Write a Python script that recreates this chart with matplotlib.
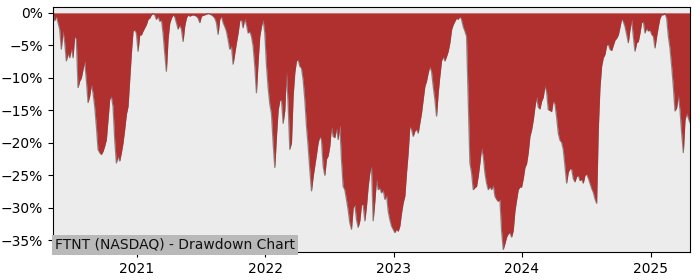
import matplotlib
matplotlib.use("Agg")
import matplotlib.pyplot as plt
import matplotlib.dates as mdates
import matplotlib.ticker as mticker
import pandas as pd

title = "FTNT (NASDAQ) - Drawdown Chart"
start_date = "2020-05-07"
end_date = "2025-04-23"

# drawdown (%) sampled at regular intervals between start_date and end_date
dd_2020_2021 = [
    0, -1.2, -0.5, -1.5, -2.5, -5.6, -2.7, -4.5, -7.4, -6.2, -6.9, -5.4, -6.9, -3.6, -4, -11.5,
    -10.5, -10, -8.7, -7.4, -10.3, -13.8, -12.8, -11, -12.3, -14.4, -17.4, -21, -21.5, -21.8,
    -21.3, -20.5, -19.5, -16.4, -13.3, -12.8, -14.4, -19.5, -23.1, -22, -22.8, -21.5, -20,
    -17.9, -15.6, -14.4, -10.3, -6.2, -2.8, -2.6, -3.1, -5.9, -3.4, -3.4, -2.8, -2.3, -1.8,
    -1, -0.8, -0.3, -0.1, -0.3, -1, -0.5, -1.3, -1, -3.1, -6.2, -9, -4, -1.6, -0.8, -0.3,
    -0.6, -1.5, -2.5, -1.8, -2.5, -4.4, -2, -0.8, -0.3, -0.5, -0.4, -0.3, -0.4, -0.5, -0.8,
    -1.5, -0.5, -0.4, -0.3, -0.2, -0.1, -0.2, -0.3, -0.5, -0.8, -1.5, -3.3, -1, -0.5, -1.5,
    -2.1, -2.8, -4.1, -5.6, -5, -7.9, -6.2, -4.6, -3.1, -1.2,
]
dd_2022_2023 = [
    -1, -2.3, -0.8, -1.8, -3.1, -2.8, -3.6, -5.1, -8.2, -12.3, -7.5, -3.6, -2.1, -1, -3, -8,
    -11.5, -14, -15.5, -20, -23.8, -19, -15, -13.5, -13.3, -17, -15, -9, -14, -21, -20, -12.8,
    -9.2, -7.4, -7.2, -8.2, -8.5, -10.3, -13.3, -17.4, -20.5, -24.1, -27.4, -25.2, -23.5,
    -21.8, -20, -19, -19.5, -23.6, -25, -22.5, -22, -20.5, -17.5, -19, -19.2, -17.7, -19.5,
    -17.2, -22.6, -26.7, -27.2, -28.7, -30.3, -32.3, -33.3, -30, -29.5, -31.8, -33, -32,
    -29.5, -29.5, -32, -29.7, -26.7, -24.6, -23.5, -32, -29, -25.6, -27.2, -26.9, -27.7,
    -27.2, -28.7, -28, -30.5, -31.8, -32.8, -33.3, -33.8, -33.3, -33.6, -32.8, -30.8, -29.2,
    -28.2, -24.6, -21.5, -17.4, -17.9, -19, -18.2, -17.9, -18.5, -16.9, -15.4, -13.3, -11.3,
    -10.5, -9.2, -8.2, -9, -11.3, -13.3, -15.9, -12.3, -9.7, -7.4, -6.7, -7.4, -6.7, -5.9,
    -4.6, -2.6, -1.8, -1.3, -0.8, -1, -0.5,
]
dd_2023_2025 = [
    -1, -2.1, -2.8, -3.6, -13.3, -23.1, -24.6, -27.2, -26.9, -26.7, -25.1, -23.1, -20.8, -22,
    -24.6, -26.2, -27.2, -26.7, -27.2, -26.4, -28.2, -28.7, -29, -28.7, -33.5, -36.4, -35.5,
    -34.5, -34, -33.8, -34.5, -33.5, -30.5, -28.8, -27.2, -26.8, -26.8, -25.5, -23.8, -23.2,
    -21.5, -19, -18, -16.5, -14.5, -12.9, -14.5, -14.8, -13.6, -13, -11.2, -12.1, -14.9, -15,
    -15.2, -13.5, -14, -16, -18.5, -19.6, -19.9, -21, -23.5, -26.2, -24.5, -24, -24, -25.5,
    -26, -25.2, -25, -25.8, -25.6, -26.2, -25, -24.8, -25.4, -26.2, -27, -27.6, -28.6, -29.3,
    -17.9, -11.5, -8.2, -6.9, -6.4, -5, -4.8, -5.6, -5.8, -5, -4.2, -3.9, -3.4, -2.2, -0.9,
    -1.3, -2.1, -3.3, -4.6, -2.6, -1, -3.6, -5.9, -4.6, -4.4, -3.1, -1.5, -1.3, -3.1, -2.3,
    -2.8, -2.6, -3.3, -3.6, -5.4, -3.6, -2.1, -0.8, -0.3, -0.3, -0.1, -0.8, -3.6, -5.4, -8.2,
    -11.3, -15.1, -14.6, -12.6, -14.9, -18.5, -21.5, -16.5, -15.4, -16.2, -16.9,
]

drawdown = dd_2020_2021 + dd_2022_2023 + dd_2023_2025
dates = pd.date_range(start_date, end_date, periods=len(drawdown))

fig = plt.figure(figsize=(7, 2.8), dpi=100)
ax = fig.add_axes([0.0757, 0.1, 0.91, 0.875])
ax.set_facecolor("#ececec")

ax.fill_between(dates, drawdown, 0, color="#b03030", lw=0, zorder=2)
ax.plot(dates, drawdown, color="#888888", lw=0.9, zorder=1.5)

ax.set_xlim(dates[0], dates[-1])
ax.set_ylim(-36.8, 0.9)
ax.set_yticks([0, -5, -10, -15, -20, -25, -30, -35])
ax.yaxis.set_major_formatter(mticker.PercentFormatter(xmax=100, decimals=0))
ax.xaxis.set_major_locator(mdates.YearLocator())
ax.xaxis.set_major_formatter(mdates.DateFormatter("%Y"))
ax.tick_params(labelsize=10)

ax.text(0.003, 0.0, title, transform=ax.transAxes, ha="left", va="bottom",
        fontsize=10, color="#111111", zorder=5,
        bbox=dict(boxstyle="square,pad=0.2", facecolor="#b9b9b9", edgecolor="none"))

fig.savefig("out.png", dpi=100)
